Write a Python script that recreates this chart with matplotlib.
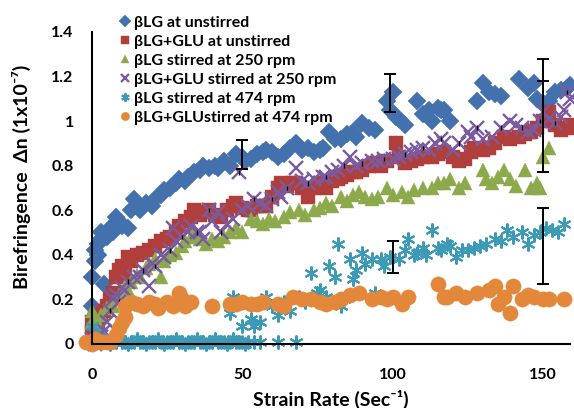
import matplotlib
matplotlib.use("Agg")
from matplotlib import pyplot as plt
from matplotlib.lines import Line2D

plt.rcParams['font.family'] = ['Lato', 'DejaVu Sans']
plt.rcParams['font.weight'] = 'bold'

# βLG at unstirred
blue_x = [0, 0, 1, 1, 2, 2, 3, 4, 3, 5, 6, 7, 8, 9, 10, 12, 13, 14, 16, 18, 20, 21, 23, 24, 26, 28,
          29, 31, 32, 34, 36, 37, 39, 41, 42, 44, 46, 48, 50, 51, 53, 55, 57, 58, 60, 62, 64, 66, 68,
          70, 72, 74, 76, 77, 79, 81, 83, 85, 87, 88, 90, 92, 94, 98, 100, 99, 101, 102, 104, 108,
          110, 112, 113, 115, 116, 117, 119, 128, 130, 132, 134, 136, 142, 145, 147, 148, 150, 152,
          154, 156, 158, 159]
blue_y = [0.17, 0.30, 0.37, 0.42, 0.45, 0.40, 0.47, 0.27, 0.50, 0.48, 0.52, 0.50, 0.57, 0.55, 0.53,
          0.52, 0.60, 0.65, 0.60, 0.63, 0.62, 0.65, 0.67, 0.69, 0.70, 0.72, 0.74, 0.73, 0.75, 0.77,
          0.78, 0.80, 0.79, 0.80, 0.79, 0.82, 0.80, 0.85, 0.84, 0.82, 0.83, 0.85, 0.86, 0.87, 0.86,
          0.84, 0.85, 0.88, 0.90, 0.87, 0.88, 0.86, 0.87, 0.88, 0.95, 0.92, 0.92, 0.94, 0.95, 0.93,
          0.99, 0.97, 0.96, 1.09, 1.13, 1.05, 1.02, 1.01, 0.98, 1.09, 1.03, 1.05, 1.00, 1.06, 1.05,
          1.05, 1.00, 1.09, 1.17, 1.13, 1.12, 1.11, 1.19, 1.15, 1.17, 1.10, 1.08, 1.09, 1.13, 1.14,
          1.15, 1.16]

# βLG+GLU at unstirred
red_x = [0, 0, 1, 2, 3, 4, 5, 6, 7, 8, 9, 10, 11, 12, 13, 15, 17, 19, 21, 23, 25, 26, 28, 29, 31,
         33, 34, 36, 38, 39, 41, 43, 45, 47, 48, 50, 52, 53, 55, 57, 58, 60, 62, 63, 65, 67, 68, 70,
         72, 74, 76, 77, 78, 80, 82, 83, 85, 87, 88, 90, 92, 94, 96, 98, 101, 102, 104, 106, 108,
         110, 113, 115, 117, 120, 122, 124, 126, 127, 130, 132, 134, 137, 139, 142, 144, 146, 148,
         150, 152, 154, 156, 158, 159]
red_y = [0.05, 0.10, 0.12, 0.08, 0.13, 0.15, 0.17, 0.20, 0.23, 0.30, 0.33, 0.35, 0.31, 0.39, 0.37,
         0.40, 0.41, 0.42, 0.44, 0.46, 0.47, 0.48, 0.50, 0.53, 0.55, 0.57, 0.60, 0.58, 0.59, 0.60,
         0.58, 0.57, 0.60, 0.62, 0.63, 0.61, 0.60, 0.60, 0.62, 0.62, 0.62, 0.66, 0.70, 0.72, 0.71,
         0.72, 0.72, 0.70, 0.66, 0.70, 0.72, 0.72, 0.70, 0.73, 0.74, 0.75, 0.76, 0.77, 0.77, 0.78,
         0.80, 0.81, 0.80, 0.82, 0.90, 0.84, 0.81, 0.82, 0.83, 0.84, 0.84, 0.85, 0.86, 0.84, 0.82,
         0.83, 0.86, 0.88, 0.87, 0.88, 0.90, 0.93, 0.92, 0.93, 0.94, 0.95, 0.97, 1.00, 1.04, 0.98,
         0.96, 0.97, 0.98]

# βLG stirred at 250 rpm
green_x = [0, 0, 1, 2, 3, 5, 7, 8, 9, 11, 12, 13, 15, 16, 18, 19, 21, 23, 24, 26, 28, 30, 31, 33,
           34, 36, 38, 40, 42, 44, 46, 48, 50, 53, 55, 57, 59, 61, 64, 66, 69, 71, 74, 76, 78, 80,
           83, 85, 87, 89, 91, 93, 95, 98, 100, 103, 105, 107, 110, 113, 115, 117, 119, 122, 124,
           130, 131, 133, 135, 137, 139, 141, 144, 146, 148, 149, 150, 152]
green_y = [0.10, 0.15, 0.12, 0.09, 0.13, 0.16, 0.17, 0.20, 0.22, 0.26, 0.24, 0.28, 0.31, 0.30,
           0.34, 0.36, 0.38, 0.30, 0.37, 0.40, 0.41, 0.44, 0.46, 0.48, 0.50, 0.47, 0.45, 0.47,
           0.46, 0.48, 0.50, 0.52, 0.50, 0.56, 0.55, 0.54, 0.56, 0.55, 0.57, 0.59, 0.60, 0.58,
           0.60, 0.61, 0.63, 0.62, 0.66, 0.64, 0.67, 0.68, 0.66, 0.65, 0.66, 0.70, 0.67, 0.68,
           0.66, 0.69, 0.70, 0.70, 0.72, 0.72, 0.74, 0.70, 0.72, 0.78, 0.74, 0.72, 0.75, 0.78,
           0.74, 0.71, 0.78, 0.70, 0.72, 0.70, 0.84, 0.88]

# βLG+GLU stirred at 250 rpm
purple_x = [0, 1, 2, 3, 4, 5, 6, 7, 8, 9, 10, 11, 12, 14, 16, 17, 19, 20, 21, 23, 24, 26, 27, 28,
            30, 32, 33, 35, 36, 37, 39, 40, 42, 43, 45, 47, 49, 50, 52, 54, 56, 58, 60, 62, 63, 65,
            68, 70, 72, 74, 77, 78, 80, 82, 84, 86, 88, 90, 93, 95, 97, 100, 102, 104, 106, 108,
            110, 112, 114, 116, 117, 120, 122, 125, 126, 128, 130, 133, 136, 139, 141, 143, 145,
            147, 149, 150, 152, 154, 156, 157, 158, 159]
purple_y = [0.02, 0.00, 0.04, 0.03, 0.06, 0.10, 0.15, 0.20, 0.22, 0.19, 0.25, 0.24, 0.28, 0.30,
            0.30, 0.33, 0.26, 0.36, 0.35, 0.40, 0.39, 0.42, 0.52, 0.46, 0.48, 0.50, 0.53, 0.50,
            0.50, 0.47, 0.60, 0.55, 0.59, 0.50, 0.54, 0.56, 0.77, 0.60, 0.62, 0.65, 0.63, 0.62,
            0.65, 0.68, 0.66, 0.70, 0.79, 0.73, 0.72, 0.74, 0.75, 0.75, 0.77, 0.78, 0.80, 0.84,
            0.80, 0.81, 0.82, 0.82, 0.83, 0.83, 0.84, 0.85, 0.86, 0.87, 0.88, 0.87, 0.90, 0.92,
            0.90, 0.87, 0.90, 0.95, 0.93, 0.97, 0.92, 0.93, 0.97, 1.00, 0.98, 0.97, 0.95, 0.96,
            1.00, 1.04, 1.01, 0.99, 1.02, 1.05, 1.13, 1.10]
purple_err = 0.01

# βLG stirred at 474 rpm
cyan_x = [0, 0, 1, 2, 3, 4, 5, 6, 7, 8, 9, 10, 11, 12, 13, 14, 15, 16, 17, 18, 19, 20, 21, 22, 23,
          24, 25, 26, 27, 28, 29, 30, 31, 32, 33, 34, 35, 36, 37, 38, 39, 40, 41, 42, 43, 44, 45,
          46, 47, 48, 49, 50, 51, 52, 54, 56, 62, 68,
          46, 47, 50, 53, 54, 56, 58, 60, 62, 64, 66, 69, 71, 73, 75, 76, 78, 79, 81, 82, 83, 84,
          86, 87, 88, 90, 91, 93, 94, 96, 97, 99, 102, 104, 105, 107, 108, 110, 111, 113, 115, 116,
          118, 119, 121, 123, 125, 127, 129, 131, 134, 136, 138, 140, 143, 145, 147, 149, 151, 153,
          155, 157]
cyan_y = [0.02, 0.08, 0.05, 0.01, 0.01, 0.02, 0.01, 0.00, 0.01, 0.01, 0.02, 0.01, 0.01, 0.00,
          0.01, 0.01, 0.02, 0.01, 0.01, 0.00, 0.01, 0.01, 0.01, 0.02, 0.01, 0.00, 0.01, 0.01,
          0.01, 0.02, 0.01, 0.01, 0.00, 0.01, 0.01, 0.01, 0.02, 0.01, 0.01, 0.00, 0.01, 0.01,
          0.02, 0.01, 0.01, 0.01, 0.00, 0.01, 0.02, 0.01, 0.01, 0.01, 0.00, 0.01, 0.01, 0.01,
          0.01, 0.01,
          0.14, 0.21, 0.08, 0.11, 0.08, 0.10, 0.21, 0.17, 0.13, 0.19, 0.15, 0.21, 0.19, 0.32,
          0.23, 0.24, 0.21, 0.35, 0.30, 0.45, 0.17, 0.20, 0.38, 0.29, 0.33, 0.41, 0.36, 0.38,
          0.23, 0.38, 0.35, 0.39, 0.38, 0.42, 0.47, 0.40, 0.41, 0.43, 0.40, 0.51, 0.43, 0.42,
          0.45, 0.44, 0.39, 0.42, 0.42, 0.43, 0.44, 0.45, 0.47, 0.46, 0.51, 0.48, 0.50, 0.45,
          0.49, 0.50, 0.52, 0.51, 0.50, 0.54]

# βLG+GLU stirred at 474 rpm
orange_x = [-2, 0, 1, 3, 5, 6, 8, 9, 10, 11, 11, 13, 15, 17, 19, 21, 22, 25, 27, 29, 30, 31, 33,
            40, 46, 48, 50, 53, 55, 57, 62, 64, 67, 70, 73, 76, 78, 81, 83, 86, 89, 93, 96, 98,
            100, 103, 105, 115, 117, 118, 121, 124, 128, 132, 134, 135, 137, 139, 140, 143, 145,
            147, 150, 152, 157]
orange_y = [0.01, 0.00, 0.02, 0.01, 0.01, 0.01, 0.04, 0.07, 0.10, 0.12, 0.17, 0.19, 0.18, 0.17,
            0.19, 0.18, 0.16, 0.19, 0.17, 0.23, 0.20, 0.17, 0.19, 0.17, 0.18, 0.18, 0.19, 0.18,
            0.18, 0.19, 0.18, 0.17, 0.21, 0.20, 0.20, 0.19, 0.18, 0.19, 0.20, 0.22, 0.23, 0.20,
            0.21, 0.20, 0.21, 0.18, 0.21, 0.27, 0.21, 0.21, 0.23, 0.21, 0.23, 0.24, 0.26, 0.18,
            0.21, 0.14, 0.26, 0.20, 0.22, 0.21, 0.20, 0.20, 0.20]

# the few large error bars
err_x = [50, 99, 100, 150, 150, 150]
err_y = [0.85, 1.125, 0.39, 1.23, 0.975, 0.44]
err_e = [0.065, 0.085, 0.07, 0.05, 0.205, 0.17]

labels = ["βLG at unstirred", "βLG+GLU at unstirred", "βLG stirred at 250 rpm",
          "βLG+GLU stirred at 250 rpm", "βLG stirred at 474 rpm", "βLG+GLUstirred at 474 rpm"]

series = [
    (blue_x, blue_y, 'D', 9, '#4371AE', 0),
    (red_x, red_y, 's', 10, '#B03F3C', 0),
    (green_x, green_y, '^', 10.5, '#8CAA4C', 0),
    (purple_x, purple_y, 'x', 9.5, '#7B5BA0', 1.7),
    (cyan_x, cyan_y, (6, 2, 0), 10, '#3D9AB6', 1.5),
    (orange_x, orange_y, 'o', 11, '#E3873A', 0),
]

fig = plt.figure(figsize=(5.74, 4.08), dpi=100)
ax = fig.add_axes([0.160, 0.157, 0.833, 0.765])

handles = []
for (xs, ys, mk, ms, col, mew), lab in zip(series, labels):
    ax.plot(xs, ys, linestyle='none', marker=mk, markersize=ms, color=col,
            markeredgecolor=col, markeredgewidth=mew if mew else 0.3, clip_on=False)
    handles.append(Line2D([], [], linestyle='none', marker=mk, markersize=6, color=col,
                          markeredgecolor=col, markeredgewidth=mew if mew else 0.3))
    if col == '#7B5BA0':
        # tiny error bars on the purple crosses
        ax.errorbar(xs[::3], ys[::3], yerr=purple_err, fmt='none', ecolor='black',
                    elinewidth=1, capsize=0, clip_on=False)

ax.errorbar(err_x, err_y, yerr=err_e, fmt='none', ecolor='black', elinewidth=1.4,
            capsize=4, capthick=1.4, clip_on=False)

ax.set_xlim(0, 159)
ax.set_ylim(0, 1.4)
ax.set_xticks([0, 50, 100, 150])
ax.set_yticks([0, 0.2, 0.4, 0.6, 0.8, 1.0, 1.2, 1.4])
ax.set_yticklabels(["0", "0.2", "0.4", "0.6", "0.8", "1", "1.2", "1.4"])
ax.tick_params(axis='x', length=0, labelsize=11.5, pad=17)
ax.tick_params(axis='y', length=0, labelsize=11.5, pad=13)
for t in ax.get_xticklabels() + ax.get_yticklabels():
    t.set_fontweight('bold')
ax.spines['top'].set_visible(False)
ax.spines['right'].set_visible(False)
ax.spines['left'].set_linewidth(1.5)
ax.spines['bottom'].set_linewidth(1.5)

ax.set_xlabel("Strain Rate (Sec⁻¹)", fontsize=14, fontweight='bold', labelpad=6)
ax.set_ylabel("Birefringence  Δn (1x10⁻⁷)", fontsize=14, fontweight='bold')
ax.yaxis.set_label_coords(-0.128, 0.535)

fig.legend(handles, labels, loc='upper left', bbox_to_anchor=(0.21, 0.962), frameon=False,
           prop={'size': 11.5, 'weight': 'bold'}, handlelength=0.6, handletextpad=0.22,
           labelspacing=0.3, borderaxespad=0, borderpad=0)

fig.savefig("out.png", dpi=100)
